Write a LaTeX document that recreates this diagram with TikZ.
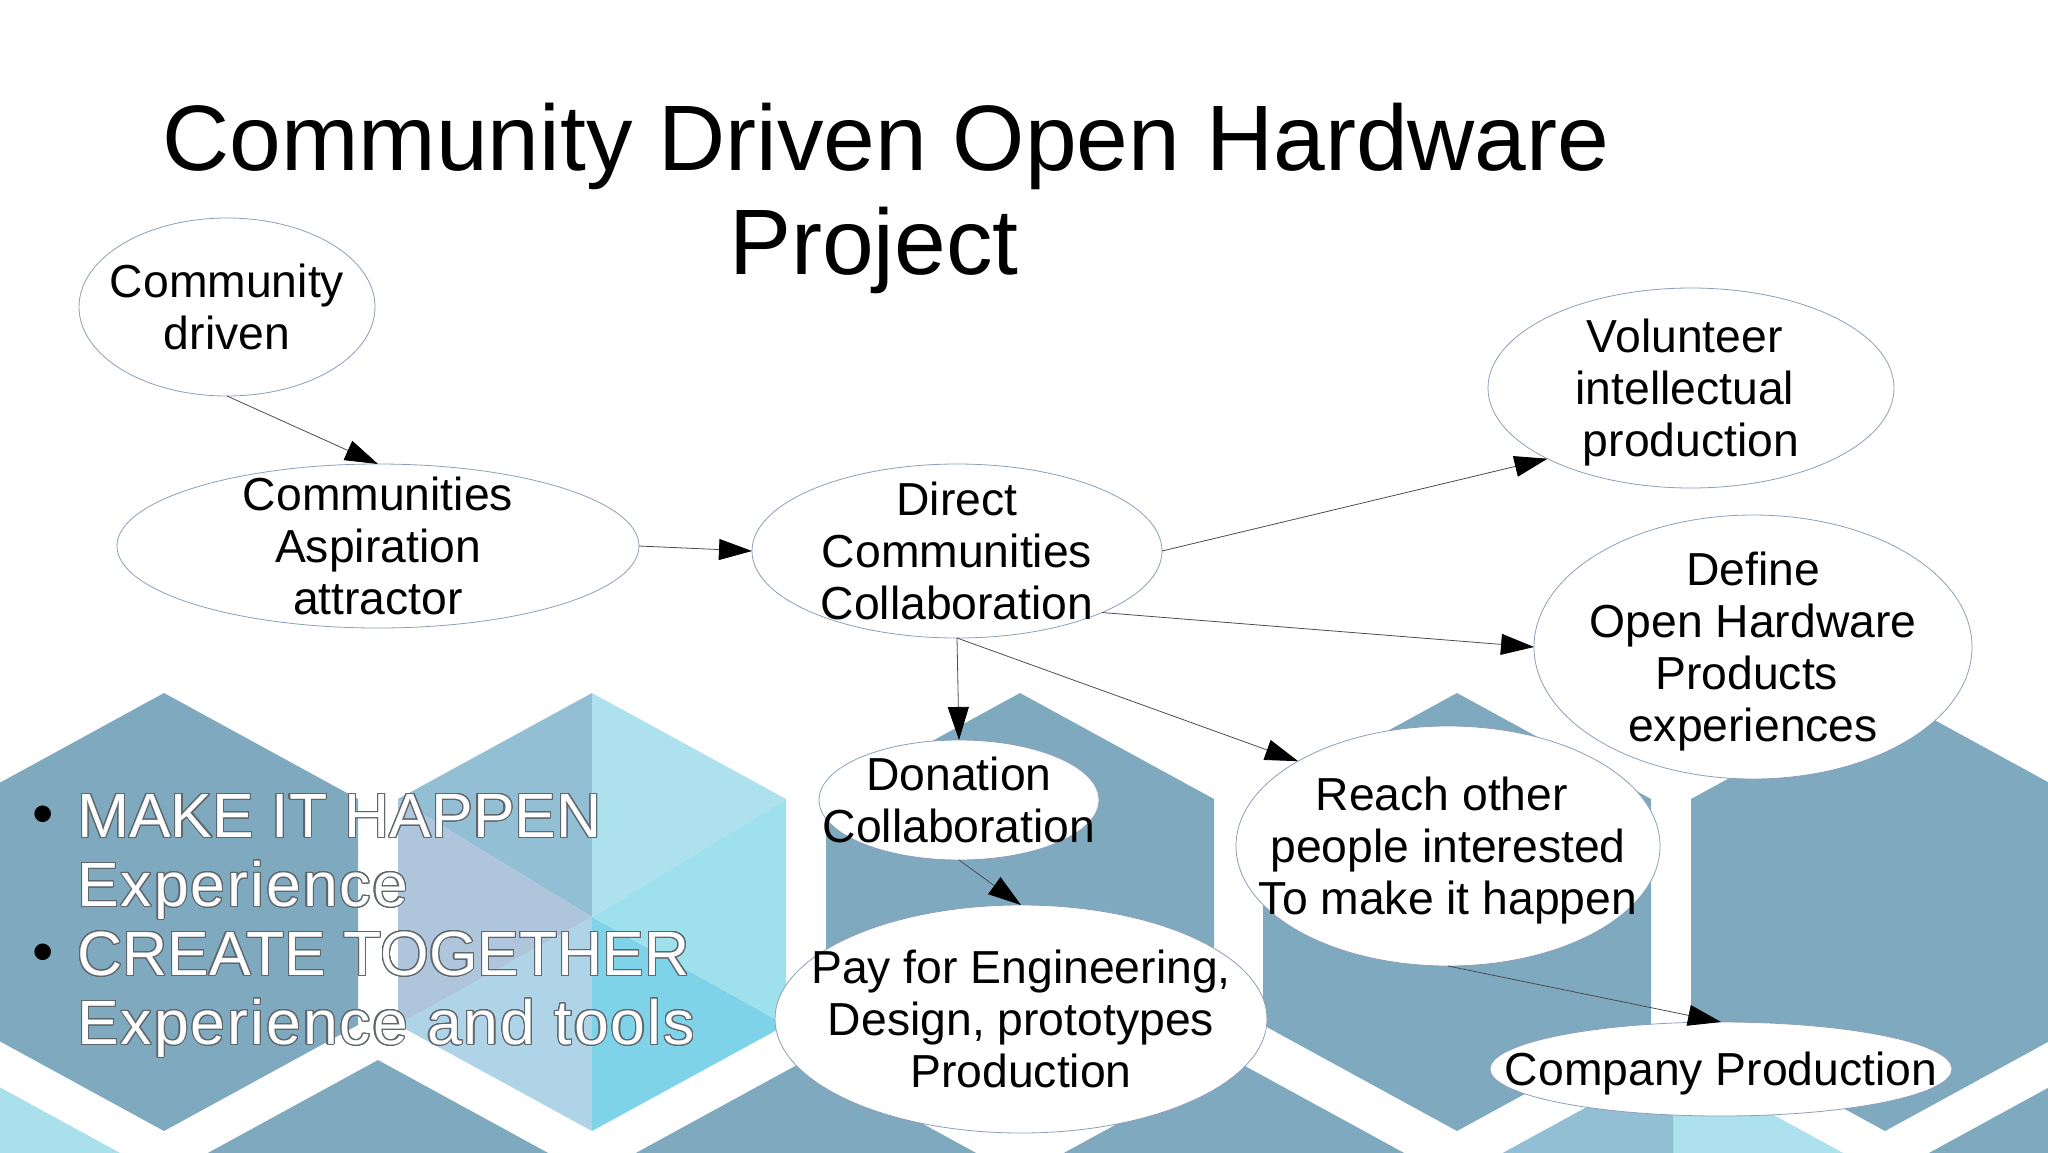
\documentclass[tikz,border=0pt]{standalone}
\usepackage{fontspec}
\setmainfont{Liberation Sans}
\usepackage[copies]{contour}
\contournumber{24}
\contourlength{1.15pt}
\usepackage{tikz}
\usetikzlibrary{positioning}
\usetikzlibrary{arrows.meta,shapes.geometric}

\definecolor{hexdark}{HTML}{7FA9BF}
\definecolor{hexpale}{HTML}{A9E0EC}
\definecolor{hexmid}{HTML}{93BFD4}
\definecolor{hexlilac}{HTML}{AFC5DB}
\definecolor{hexsky}{HTML}{AFD3E7}
\definecolor{hexdeep}{HTML}{7FD3E9}
\definecolor{hexaqua}{HTML}{9FE0ED}
\definecolor{hextop}{HTML}{ADE1EE}
\definecolor{rimblue}{HTML}{8C9FB8}
\definecolor{hollowrim}{HTML}{5F666C}

% one hexagon cell, from its top corner
\newcommand{\hexcell}[3]{\fill[#1] (#2,#3) -- ++(194,106) -- ++(0,226) -- ++(-194,106) -- ++(-194,-106) -- ++(0,-226) -- cycle;}
\newcommand{\trailgap}{\hbox to 12.5pt{}}
\newcommand{\nodepth}[1]{\raisebox{0pt}[\height][0pt]{#1}}
\newcommand{\hollow}[1]{\contour{hollowrim}{#1}}
\newcommand{\hollowwide}[1]{\contour{hollowrim}{\addfontfeature{LetterSpace=3.2}#1}}

\tikzset{
    bubble/.style 2 args={ellipse, draw=rimblue, line width=.8pt, fill=white, inner sep=-70pt, outer sep=0pt,
        minimum width=#1pt, minimum height=#2pt, align=center, font=\fontsize{46.3}{52}\selectfont},
    link/.style={draw=black!70, line width=.8pt, -{Triangle[length=33pt,width=21pt,black]}},
    headline/.style={align=center, font=\fontsize{93}{104}\selectfont},
    slogan/.style={align=left, text=white, inner sep=0pt, font=\fontsize{62.5}{69}\selectfont},
    dotmark/.style={inner sep=0pt, font=\fontsize{61}{69}\selectfont}
}

\begin{document}
\begin{tikzpicture}[x=1pt,y=-1pt]
    \useasboundingbox (0,0) rectangle (2048,1152);
    \clip (0,0) rectangle (2048,1152);

    % background cells
    \foreach \cx in {164,1020,1457,1885} {\hexcell{hexdark}{\cx}{693}}
    \foreach \cx in {378,806,1234,2099} {\hexcell{hexdark}{\cx}{1060}}
    \hexcell{hexpale}{-50}{1060}
    \hexcell{hextop}{1673}{1060}
    \fill[hexmid] (1673,1060) -- ++(-194,106) -- ++(0,226) -- ++(194,106) -- cycle;

    % faceted cell
    \fill[hexmid] (592,693) -- (398,799) -- (592,917) -- cycle;
    \fill[hexlilac] (398,799) -- (592,917) -- (398,1025) -- cycle;
    \fill[hexsky] (398,1025) -- (592,917) -- (592,1131) -- cycle;
    \fill[hexdeep] (592,917) -- (592,1131) -- (786,1025) -- cycle;
    \fill[hexaqua] (592,917) -- (786,1025) -- (786,799) -- cycle;
    \fill[hextop] (592,693) -- (786,799) -- (592,917) -- cycle;

    % Title and bullets
    \node[headline] (title) at (886,198) {Community Driven Open Hardware\\Project\hspace*{24pt}};
    \node[slogan, anchor=north west] (slogan) at (77,794) {\hollow{MAKE IT HAPPEN}\\\hollowwide{Experience}\\\hollow{CREATE TOGETHER}\\\hollowwide{Experience and tools}};
    \node[dotmark] (dotone) at (43,820) {•};
    \node[dotmark] (dottwo) at (43,958) {•};

    % Place bubbles
    \node[bubble={296}{178}] (driven) at (227,307) {Community\\driven};
    \node[bubble={522}{164}, below = 68pt of driven, xshift=151pt] (aspire) {Communities\\Aspiration\\attractor};
    \node[bubble={410}{174}, right = 113pt of aspire, yshift=-5pt] (direct) {Direct\\Communities\\Collaboration};
    \node[bubble={406}{200}] (volunteer) at (1691,388) {Volunteer\trailgap\\intellectual\trailgap\\\nodepth{production}};
    \node[bubble={438}{264}, below = 0pt of volunteer, xshift=62pt, yshift=-27pt] (define) {Define\\Open Hardware\\Products\trailgap\\\nodepth{experiences}};
    \node[bubble={280}{120}, below = 102pt of direct, xshift=2pt] (donation) {Donation\\Collaboration};
    \node[bubble={492}{228}, below = 45pt of donation, xshift=62pt] (engineering) {Pay for Engineering,\\Design, prototypes\\Production};
    \node[bubble={424}{240}] (reach) at (1448,846) {Reach other\trailgap\\people interested\\\nodepth{To make it happen}};
    \node[bubble={462}{94}, below = 56pt of reach, xshift=273pt] (company) {\nodepth{Company Production}};

    % Connect bubbles
    \draw[link] (driven.south) -- (aspire.north);
    \draw[link] (aspire.east) -- (direct.west);
    \draw[link] (direct.east) -- (volunteer.south west);
    \draw[link] (direct.south east) -- (define.west);
    \draw[link] (direct.south) -- (donation.north);
    \draw[link] (direct.south) -- (reach.north west);
    \draw[link] (donation.south) -- (engineering.north);
    \draw[link] (reach.south) -- (company.north);
\end{tikzpicture}
\end{document}
